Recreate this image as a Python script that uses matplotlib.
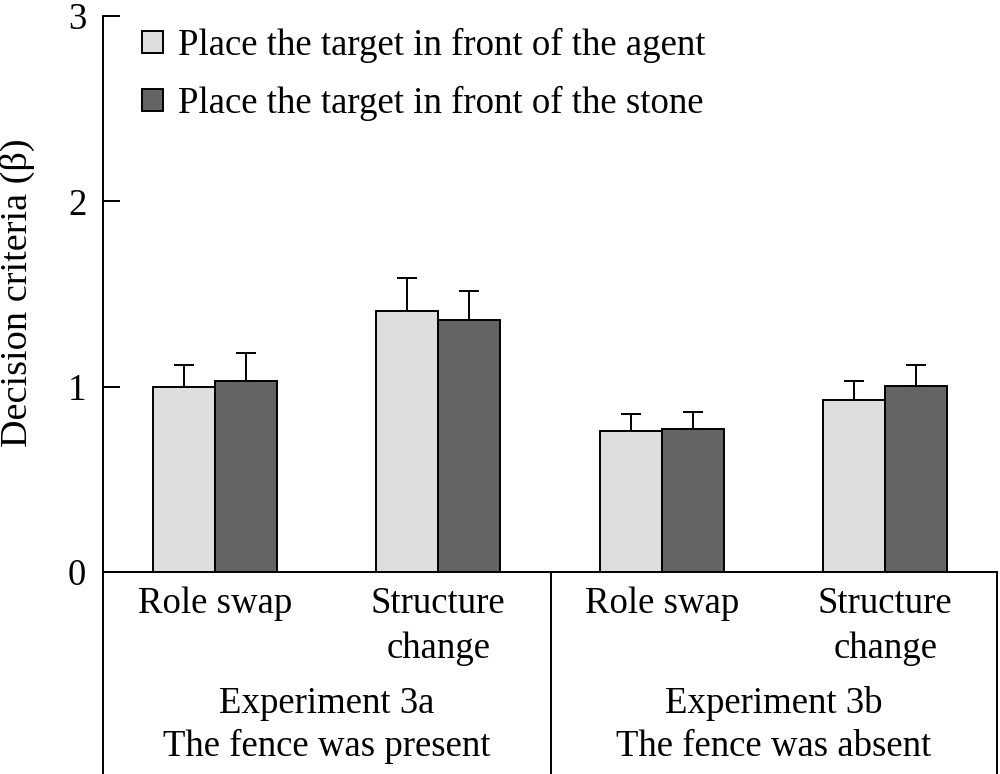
import matplotlib.pyplot as plt
import numpy as np
from matplotlib.lines import Line2D

plt.rcParams["font.family"] = ["Liberation Serif", "DejaVu Serif"]

conditions = ["Role swap", "Structure\nchange", "Role swap", "Structure\nchange"]
experiments = ["Experiment 3a\nThe fence was present", "Experiment 3b\nThe fence was absent"]
series_labels = ["Place the target in front of the agent", "Place the target in front of the stone"]
agent_mean = [1.00, 1.41, 0.76, 0.93]
agent_err = [0.115, 0.177, 0.09, 0.10]
stone_mean = [1.03, 1.36, 0.77, 1.005]
stone_err = [0.15, 0.158, 0.092, 0.11]
colors = ["#dedede", "#646464"]

W, H = 1000, 774
FS = 26.5
fig = plt.figure(figsize=(W / 100, H / 100), dpi=100)
left, right, bottom, top = 103 / W, 997 / W, 1 - 572 / H, 1 - 16 / H
ax = fig.add_axes([left, bottom, right - left, top - bottom])

x = np.arange(len(conditions))
bw = 0.277
lw = 1.4
for i, (m, e) in enumerate([(agent_mean, agent_err), (stone_mean, stone_err)]):
    xs = x + (i - 0.5) * bw
    ax.bar(xs, m, width=bw, color=colors[i], edgecolor="black", linewidth=lw,
           label=series_labels[i], zorder=2)
    ax.errorbar(xs, m, yerr=[np.zeros(len(m)), e], fmt="none", ecolor="black",
                elinewidth=lw, capsize=7, capthick=lw, zorder=1)

ax.set_xlim(-0.5, 3.5)
ax.set_ylim(0, 3)
ax.set_yticks([0, 1, 2, 3])
ax.set_xticks([])
for s in ["top", "right"]:
    ax.spines[s].set_visible(False)
for s in ["left", "bottom"]:
    ax.spines[s].set_linewidth(lw)
ax.tick_params(axis="y", direction="in", length=12, width=lw, labelsize=FS, pad=12)
fig.text(17 / W, 1 - 293 / H, "Decision criteria (β)", rotation=90,
         ha="center", va="center", fontsize=27.5)

ax.legend(loc="upper left", bbox_to_anchor=(142 / W, 1 - 28 / H),
          bbox_transform=fig.transFigure, frameon=False, fontsize=FS,
          handlelength=0.57, handleheight=0.57, handletextpad=0.4,
          labelspacing=0.62, borderaxespad=0, borderpad=0)

# table lines under the axis
divider = 551 / W
for xv in [left, divider, right]:
    fig.add_artist(Line2D([xv, xv], [0, bottom], color="black", lw=lw,
                          transform=fig.transFigure))

trans = ax.get_xaxis_transform()
for xi, lab in zip(x, conditions):
    for k, part in enumerate(lab.split("\n")):
        ax.text(xi, 0, part, transform=trans, ha="center", va="baseline",
                fontsize=FS).set_y(-(613 + 45 * k - 572) / (572 - 16))
for j, lab in enumerate(experiments):
    cx = (left + divider) / 2 if j == 0 else (divider + right) / 2
    for k, part in enumerate(lab.split("\n")):
        fig.text(cx, 1 - (713 + 43 * k) / H, part, ha="center", va="baseline",
                 fontsize=FS)

fig.savefig("out.png", dpi=100)
